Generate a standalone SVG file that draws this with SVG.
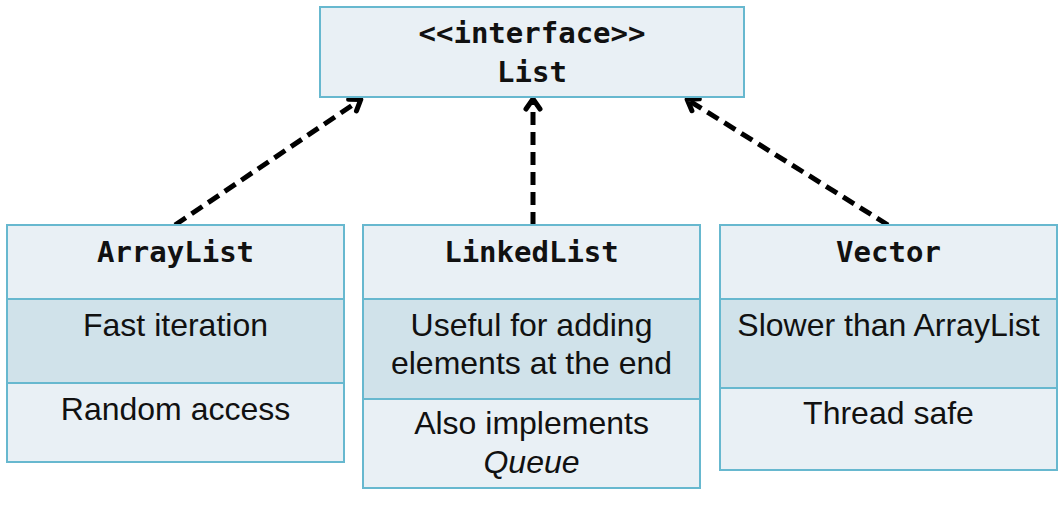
<svg xmlns="http://www.w3.org/2000/svg" width="1062" height="509" viewBox="0 0 1062 509">
<style>
.box{fill:#e9f0f5;stroke:#67b8cf;stroke-width:2}
.mid{fill:#d0e2ea;stroke:#67b8cf;stroke-width:2}
.mono{font-family:"DejaVu Sans Mono",monospace;font-weight:bold;font-size:29px;fill:#111;text-anchor:middle}
.body{font-family:"Liberation Sans",Arial,sans-serif;font-size:32px;fill:#111;text-anchor:middle}
.conn{fill:none;stroke:#000;stroke-width:5;stroke-dasharray:13 7}
</style>
<defs>
<marker id="open" markerWidth="12" markerHeight="12" refX="9" refY="6" orient="auto" markerUnits="userSpaceOnUse" overflow="visible">
<path d="M0,-1 L10,6 L0,13" fill="none" stroke="#000" stroke-width="5" stroke-linecap="round" stroke-linejoin="round"/>
</marker>
</defs>
<g id="connectors">
<line class="conn" x1="175" y1="225" x2="360" y2="100" marker-end="url(#open)"/>
<line class="conn" x1="533" y1="225" x2="533" y2="100" marker-end="url(#open)"/>
<line class="conn" x1="888" y1="225" x2="688" y2="100" marker-end="url(#open)"/>
</g>
<g id="list">
<rect class="box" x="320" y="7" width="424" height="90"/>
<text class="mono" x="532" y="43">&lt;&lt;interface&gt;&gt;</text>
<text class="mono" x="532" y="82">List</text>
</g>
<g id="arraylist">
<rect class="box" x="7" y="225" width="337" height="237"/>
<rect class="mid" x="7" y="299" width="337" height="84"/>
<text class="mono" x="175.5" y="262">ArrayList</text>
<text class="body" x="175.5" y="336">Fast iteration</text>
<text class="body" x="175.5" y="420">Random access</text>
</g>
<g id="linkedlist">
<rect class="box" x="363" y="225" width="337" height="263"/>
<rect class="mid" x="363" y="299" width="337" height="100"/>
<text class="mono" x="531.5" y="262">LinkedList</text>
<text class="body" x="531.5" y="336">Useful for adding</text>
<text class="body" x="531.5" y="374">elements at the end</text>
<text class="body" x="531.5" y="434">Also implements</text>
<text class="body" x="531.5" y="473" font-style="italic">Queue</text>
</g>
<g id="vector">
<rect class="box" x="720" y="225" width="337" height="245"/>
<rect class="mid" x="720" y="299" width="337" height="89"/>
<text class="mono" x="888.5" y="262">Vector</text>
<text class="body" x="888.5" y="336">Slower than ArrayList</text>
<text class="body" x="888.5" y="424">Thread safe</text>
</g>
</svg>
